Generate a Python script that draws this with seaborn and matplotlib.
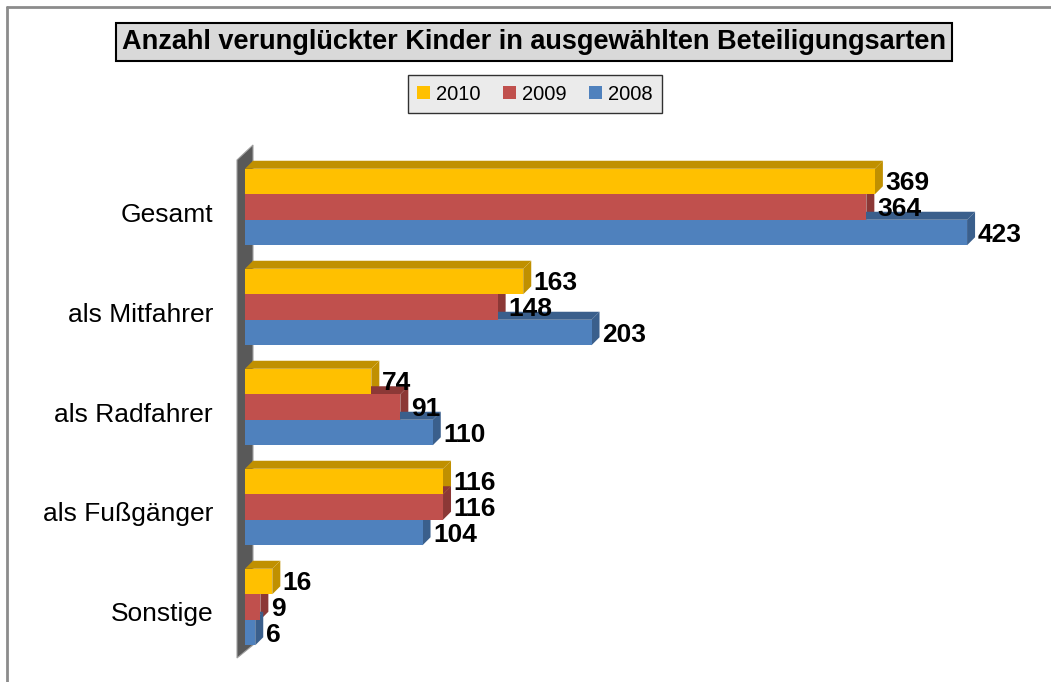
import numpy as np
import pandas as pd
import matplotlib
matplotlib.use("Agg")
import matplotlib.pyplot as plt
import matplotlib.transforms as mtransforms
from matplotlib.patches import Polygon, Rectangle
import seaborn as sns

# data
categories = ["Gesamt", "als Mitfahrer", "als Radfahrer", "als Fußgänger", "Sonstige"]
years = ["2010", "2009", "2008"]
v2010 = [369, 163, 74, 116, 16]
v2009 = [364, 148, 91, 116, 9]
v2008 = [423, 203, 110, 104, 6]

colors = {"2010": "#FFC000", "2009": "#C0504D", "2008": "#4F81BD"}
side_colors = {"2010": "#C09000", "2009": "#8C3836", "2008": "#3A5F8C"}

df = pd.DataFrame({
    "Kategorie": categories * 3,
    "Jahr": ["2010"] * 5 + ["2009"] * 5 + ["2008"] * 5,
    "Anzahl": v2010 + v2009 + v2008,
})

sns.set_style("white")
plt.rcParams["font.family"] = ["Liberation Sans", "DejaVu Sans"]
plt.rcParams["text.color"] = "black"

fig = plt.figure(figsize=(10.51, 6.82), dpi=100)
ax = fig.add_axes([245 / 1051, 25 / 682, 785 / 1051, 500 / 682])

sns.barplot(data=df, y="Kategorie", x="Anzahl", hue="Jahr", order=categories,
            hue_order=years, palette=colors, orient="h", width=0.765, gap=0,
            saturation=1, legend=False, ax=ax, zorder=3, linewidth=0, edgecolor="none")

xmax = 785 / 1.707
ax.set_xlim(0, xmax)
ax.set_ylim(4.5, -0.5)

# 3d depth offsets in data units (about 8 px right and 8 px up)
dx = 8 / 1.707
dy = 0.08

for i, yr in enumerate(years):
    for bar in ax.containers[i]:
        x1 = bar.get_x() + bar.get_width()
        y0 = bar.get_y()
        y1 = y0 + bar.get_height()
        side = Polygon([(x1, y0), (x1 + dx, y0 - dy), (x1 + dx, y1 - dy), (x1, y1)],
                       closed=True, facecolor=side_colors[yr], edgecolor="none", zorder=2)
        top = Polygon([(0, y0), (dx, y0 - dy), (x1 + dx, y0 - dy), (x1, y0)],
                      closed=True, facecolor=side_colors[yr], edgecolor="none", zorder=2)
        ax.add_patch(side)
        ax.add_patch(top)
        ax.text(x1 + dx + 1.5, (y0 + y1) / 2 + 0.02, f"{int(bar.get_width())}",
                ha="left", va="center", fontsize=19, fontweight="bold",
                color="black", zorder=5)

# grey wall on the left
wall = Polygon([(-dx, 4.51), (-dx, -0.47), (dx, -0.62), (dx, 4.38)], closed=True,
               facecolor="#595959", edgecolor="#A0A0A0", linewidth=0.8,
               zorder=1, clip_on=False)
ax.add_patch(wall)

ax.set_xlabel("")
ax.set_ylabel("")
ax.set_xticks([])
ax.tick_params(axis="y", length=0, pad=23, labelsize=19, labelcolor="black")
shift = mtransforms.ScaledTranslation(0, -5 / 100, fig.dpi_scale_trans)
for lab in ax.get_yticklabels():
    lab.set_transform(lab.get_transform() + shift)
for s in ax.spines.values():
    s.set_visible(False)

# title box
fig.text(534 / 1051, 1 - 42 / 682, "Anzahl verunglückter Kinder in ausgewählten Beteiligungsarten",
         ha="center", va="center", fontsize=19.5, fontweight="bold", color="black",
         bbox=dict(boxstyle="square,pad=0.22", facecolor="#D9D9D9", edgecolor="black", linewidth=1.5))

# legend
handles = [Rectangle((0, 0), 1, 1, facecolor=colors[y], edgecolor="none") for y in years]
leg = fig.legend(handles, years, loc="center", bbox_to_anchor=(535 / 1051, 1 - 94 / 682), ncol=3,
                 frameon=True, fancybox=False, edgecolor="black", facecolor="#E6E6E6",
                 fontsize=14.5, handlelength=0.65, handleheight=0.65, handletextpad=0.3,
                 columnspacing=1.1, borderpad=0.45)
for t in leg.get_texts():
    t.set_color("black")

# outer frame (left and top edges)
fig.add_artist(plt.Line2D([7 / 1051, 7 / 1051], [0, 1 - 7 / 682], transform=fig.transFigure,
                          color="#8C8C8C", linewidth=2))
fig.add_artist(plt.Line2D([7 / 1051, 1], [1 - 7 / 682, 1 - 7 / 682], transform=fig.transFigure,
                          color="#8C8C8C", linewidth=2))

fig.savefig("out.png", dpi=100)
